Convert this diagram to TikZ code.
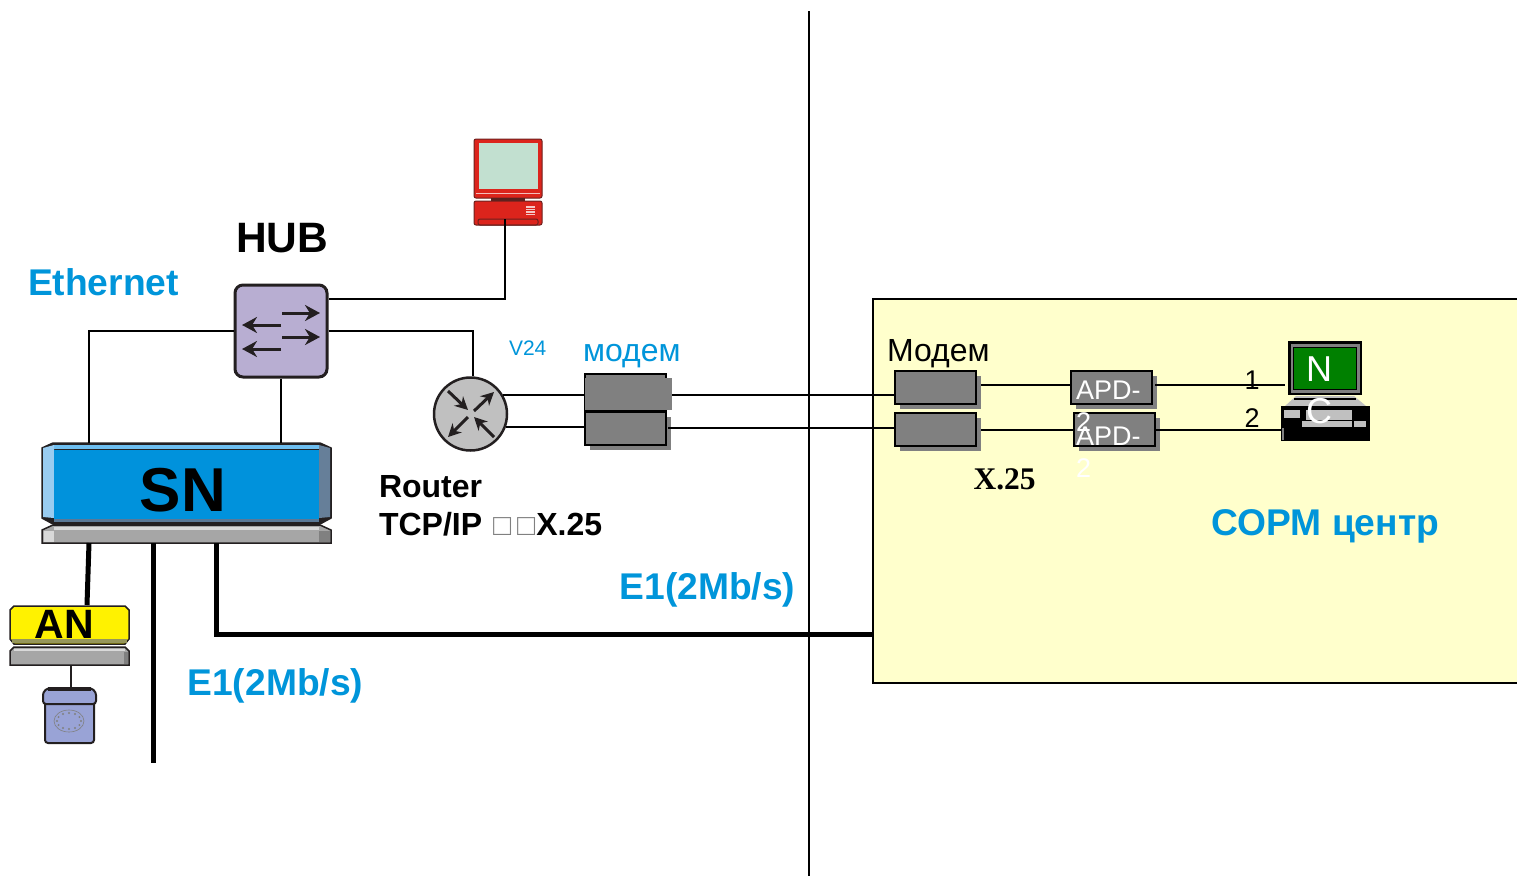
\documentclass[tikz,border=0pt]{standalone}
\usepackage{fontspec}
\setmainfont{Liberation Sans}
\newfontfamily\timesfont{Liberation Serif}
\usetikzlibrary{arrows.meta,shadows}
\definecolor{textblue}{RGB}{0,149,218}
\definecolor{snblue}{RGB}{0,146,220}
\definecolor{cream}{RGB}{255,255,204}
\definecolor{boxgray}{RGB}{128,128,128}
\definecolor{hubpurple}{RGB}{184,174,210}
\definecolor{pcred}{RGB}{220,36,28}
\definecolor{phoneblue}{RGB}{153,163,214}
\definecolor{darkline}{RGB}{35,31,32}
\newcommand{\fsize}[1]{\fontsize{#1}{#1}\selectfont}

\begin{document}
\begin{tikzpicture}[x=1pt,y=-1pt,>={Stealth[length=15pt,width=16pt]},
            thick,line width=2pt,
            blue label/.style={anchor=base west,inner sep=0pt,text=textblue,font=\fsize{37.2}\bfseries},
            black label/.style={anchor=base west,inner sep=0pt,font=\fsize{32}},
            modem box/.style={draw=black,line width=2pt,fill=boxgray,minimum width=81pt,minimum height=33pt,inner sep=0pt,
                drop shadow={shadow xshift=5pt,shadow yshift=-5pt,opacity=1,fill=boxgray}},
            apd text/.style={anchor=north west,inner sep=0pt,text=white,align=left,font=\fsize{27}},
            icon arrow/.style={->,line width=3pt,draw=darkline,color=darkline},
            small arrow/.style={-{Stealth[length=13pt,width=13pt]},line width=3pt,draw=darkline,color=darkline}]
            \useasboundingbox (0,0) rectangle (1517,876);
            % room on the right
            \node[draw=black,fill=cream,anchor=north west,minimum width=650pt,minimum height=384pt] (room) at (872,298) {};
            \coordinate (top) at (809,11);
            \coordinate (bottom) at (809,876);
            \draw (top) -- (bottom);

            % SN
            \draw[line width=1.5pt,draw=darkline,fill=darkline] (53,443) -- (320,443) -- (331,448) -- (331,518) -- (320,524) -- (53,524) -- (42,518) -- (42,448) -- cycle;
            \fill[fill={rgb,255:red,110;green,190;blue,240}] (54,445) -- (319,445) -- (319,449) -- (54,449) -- cycle;
            \fill[fill={rgb,255:red,153;green,204;blue,240}] (43,448) -- (54,445) -- (54,518) -- (43,517) -- cycle;
            \fill[fill={rgb,255:red,102;green,127;blue,153}] (330,448) -- (319,445) -- (319,518) -- (330,517) -- cycle;
            \fill[fill={rgb,255:red,90;green,120;blue,150}] (54,518) rectangle (319,522);
            \draw[line width=1.5pt,draw=darkline,fill={rgb,255:red,166;green,166;blue,166}] (53,525) -- (320,525) -- (331,530) -- (331,543) -- (42,543) -- (42,530) -- cycle;
            \fill[fill={rgb,255:red,217;green,217;blue,217}] (44,531) rectangle (54,542);
            \fill[fill=boxgray] (319,531) rectangle (330,542);
            \fill[fill={rgb,255:red,217;green,217;blue,217}] (54,527) rectangle (319,530);
            \node[fill=snblue,minimum width=265pt,minimum height=69pt,inner sep=0pt,font=\fsize{62}\bfseries] (sn) at (186.5,484) {};
            \node[inner sep=0pt,font=\fsize{62}\bfseries] (snlabel) at (183,490) {SN};
            \coordinate (snleft) at (89,443);
            \coordinate (snhub) at (281,443);
            \coordinate (snan) at (89,543);
            \coordinate (snfree) at (153,543);
            \coordinate (snroom) at (216,543);
            \coordinate (freeend) at (153,763);
            \coordinate (roomline) at (873,634);

            % AN and its telephone
            \draw[line width=1.5pt,draw=darkline,fill=yellow] (14,606) -- (125,606) -- (129,610) -- (129,639) -- (125,644) -- (14,644) -- (10,639) -- (10,610) -- cycle;
            \fill[fill={rgb,255:red,150;green,150;blue,90}] (12,639) rectangle (127,643);
            \draw[line width=1.5pt,draw=darkline,fill={rgb,255:red,166;green,166;blue,166}] (14,647) -- (125,647) -- (129,651) -- (129,665) -- (10,665) -- (10,651) -- cycle;
            \fill[fill={rgb,255:red,217;green,217;blue,217}] (14,649) rectangle (125,651);
            \fill[fill=boxgray] (124,652) rectangle (128,664);
            \node[inner sep=0pt,font=\fsize{41}\bfseries] (an) at (64.5,624) {AN};
            \coordinate (antop) at (87,605);
            \coordinate (anbottom) at (71,665);
            \draw[line width=2pt,draw=darkline,fill=phoneblue,rounded corners=3pt] (45,700) rectangle (94,743);
            \draw[line width=2pt,draw=darkline,fill=phoneblue,rounded corners=3pt] (43,692) -- (48,688) -- (91,688) -- (96,692) -- (96,704) -- (43,704) -- cycle;
            \fill[fill=darkline] (48,687) rectangle (91,691);
            \draw[line width=.6pt,draw=boxgray] (69,721) ellipse (15 and 11);
            \foreach \a in {0,30,...,330}
                \fill[fill=boxgray] (69,721) ++(\a:12 and 8) circle (1.1);
            \coordinate (phonetop) at (71,687);

            % HUB
            \node[draw=darkline,fill=hubpurple,line width=3pt,rounded corners=8pt,minimum size=92pt,inner sep=0pt] (hub) at (281,331) {};
            \draw[icon arrow] (282,313) -- (320,313);
            \draw[icon arrow] (282,337) -- (320,337);
            \draw[icon arrow] (281,325) -- (242,325);
            \draw[icon arrow] (281,349) -- (242,349);
            \coordinate (hubpc) at (329,299);

            % terminal
            \draw[line width=1pt,draw=darkline!60!pcred,fill=pcred,rounded corners=2pt] (474,139) rectangle (542,198);
            \draw[line width=.6pt,draw=white!70!pcred] (476,193) -- (540,193);
            \fill[fill={rgb,255:red,194;green,224;blue,208}] (479,143) rectangle (538,189);
            \fill[fill=darkline!70!pcred] (491,198) rectangle (525,201);
            \draw[line width=1pt,draw=darkline!60!pcred,fill=pcred,rounded corners=2pt] (474,201) rectangle (542,225);
            \draw[line width=1pt,draw=darkline!60!pcred,rounded corners=2pt] (478,219) rectangle (538,225);
            \foreach \y in {207,209.5,212,214.5}
                \draw[line width=1.2pt,draw=white!75!pcred] (526,\y) -- (535,\y);
            \coordinate (pcbottom) at (505,219);

            % router
            \node[circle,draw=darkline,fill={rgb,255:red,192;green,192;blue,192},line width=2.5pt,minimum size=73pt,inner sep=0pt] (router) at (470.5,414) {};
            \draw[small arrow] (448,391) -- (468,410);
            \draw[small arrow] (474,411) -- (494,392);
            \draw[small arrow] (468,417) -- (448,437);
            \draw[small arrow] (494,437) -- (474,417);

            % modems on the left
            \node[draw=black,fill=boxgray,anchor=north west,minimum width=81pt,minimum height=37pt,inner sep=0pt] (modema) at (584,372.5) {};
            \fill[fill=boxgray] (584.5,378) rectangle (672,410);
            \node[modem box,anchor=north west] (modemb) at (584,410.5) {};
            \coordinate (linea) at (672,395);
            \coordinate (lineb) at (668,428);

            % modems and APD in the room
            \node[modem box,anchor=north west] (roommodema) at (894,369.5) {};
            \node[modem box,anchor=north west] (roommodemb) at (894,411.5) {};
            \node[modem box,anchor=north west] (apda) at (1070,369.5) {};
            \node[modem box,anchor=north west] (apdb) at (1073,411.5) {};
            \coordinate (roomlinea) at (981,385);
            \coordinate (roomlineb) at (981,430);
            \coordinate (apdlinea) at (1155,385);
            \coordinate (apdlineb) at (1155,430);
            \coordinate (ncpa) at (1285,385);
            \coordinate (ncpb) at (1282,430);
            \node[apd text] (apdatext) at (1075,380) {APD-\\[5pt]2};
            \node[apd text] (apdbtext) at (1075,426) {APD-\\[5pt]2};

            % NC
            \fill[fill=black] (1288,341) rectangle (1362,395);
            \fill[fill=boxgray] (1290.5,343.5) rectangle (1359.5,392.5);
            \fill[fill=black] (1293,347) rectangle (1357,390);
            \fill[fill=green!50!black] (1294,348) rectangle (1356,389);
            \fill[fill={rgb,255:red,192;green,192;blue,192}] (1296,396) -- (1354,396) -- (1366,406) -- (1285,406) -- cycle;
            \fill[fill=black] (1294,398) rectangle (1356,400);
            \fill[fill={rgb,255:red,192;green,192;blue,192}] (1295,400) rectangle (1355,407);
            \fill[fill=black] (1281,406) rectangle (1370,441);
            \fill[fill={rgb,255:red,192;green,192;blue,192}] (1284,410) rectangle (1300,418);
            \fill[fill={rgb,255:red,192;green,192;blue,192}] (1306,410) rectangle (1352,420);
            \fill[fill={rgb,255:red,192;green,192;blue,192}] (1302,421) rectangle (1352,427);
            \fill[fill={rgb,255:red,192;green,192;blue,192}] (1354,421) rectangle (1366,427);
            \fill[fill=boxgray] (1282,428) rectangle (1284,440);
            \node[inner sep=0pt,text=white,font=\fsize{36}] (ncn) at (1319,369) {N};
            \node[inner sep=0pt,text=white,font=\fsize{36}] (ncc) at (1319,411) {C};

            % connectors
            \draw (hub.west) -| (snleft);
            \draw (hub.south) -- (snhub);
            \draw (hubpc) -| (pcbottom);
            \draw (hub.east) -| ([xshift=2.5pt]router.north);
            \draw (router.31) -- (router.31 -| modema.west);
            \draw (router.-20) -- (router.-20 -| modemb.west);
            \draw (linea) -- (linea -| roommodema.west);
            \draw (lineb) -- (lineb -| roommodemb.west);
            \draw (roomlinea) -- (roomlinea -| apda.west);
            \draw (roomlineb) -- (roomlineb -| apdb.west);
            \draw (apdlinea) -- (ncpa);
            \draw (apdlineb) -- (ncpb);
            \draw[line width=5pt] (snan) -- (antop);
            \draw[line width=5pt] (snfree) -- (freeend);
            \draw[line width=5pt] (snroom) |- (roomline);
            \draw[line width=1.5pt,draw=darkline] (anbottom) -- (phonetop);

            % labels
            \node[blue label] (ethernet) at (27,295) {Ethernet};
            \node[anchor=base west,inner sep=0pt,font=\fsize{42.5}\bfseries] (hublabel) at (235,252.5) {HUB};
            \node[anchor=north west,inner sep=0pt,align=left,font=\fsize{32}\bfseries] (routerlabel) at (378,474) {Router\\[6.5pt]TCP/IP\hspace{11pt}{\color{gray}\normalfont\fsize{30}□\hspace{6pt}□\hspace{1pt}}X.25};
            \node[anchor=base west,inner sep=0pt,text=textblue,font=\fsize{21}] (vlabel) at (508,355) {V24};
            \node[black label,text=textblue] (modemlabel) at (582,361) {модем};
            \node[black label] (roommodemlabel) at (886,361) {Модем};
            \node[anchor=base west,inner sep=0pt,font=\timesfont\fsize{31.5}\bfseries] (xlabel) at (972.5,489.5) {X.25};
            \node[blue label] (roomlabel) at (1210.5,535) {СОРМ центр};
            \node[blue label] (eonea) at (618.5,599) {E1(2Mb/s)};
            \node[blue label] (eoneb) at (186.5,695) {E1(2Mb/s)};
            \node[anchor=center,inner sep=0pt,font=\fsize{27}] (numa) at (1252,380) {1};
            \node[anchor=center,inner sep=0pt,font=\fsize{27}] (numb) at (1252,418) {2};
        \end{tikzpicture}
\end{document}
